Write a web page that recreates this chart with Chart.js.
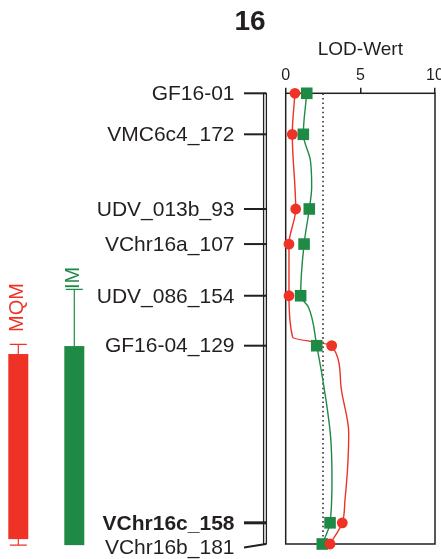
<!DOCTYPE html>
<html><head><meta charset="utf-8">
<script src="https://cdn.jsdelivr.net/npm/chart.js@4.4.1/dist/chart.umd.min.js"></script>
<style>html,body{margin:0;padding:0;background:#fff}#wrap{position:relative;width:441px;height:559px}</style>
</head><body><div id="wrap"><canvas id="c"></canvas></div>
<script>
// Marker names and positions along chromosome 16 (cM-like units, top = 0)
const markers = ['GF16-01','VMC6c4_172','UDV_013b_93','VChr16a_107','UDV_086_154','GF16-04_129','VChr16c_158','VChr16b_181'];
const boldMarker = 'VChr16c_158';
const markerPos = [0, 5.46, 15.4, 20.07, 26.95, 33.6, 57.18, 60];
// LOD values at markers
const lodMQM = [0.62, 0.44, 0.67, 0.22, 0.22, 3.08, 3.79, 2.97];
const lodIM  = [1.41, 1.18, 1.58, 1.23, 1.0, 2.08, 2.97, 2.45];
// LOD profile curves
const curveMQMPos = [0, 5.46, 15.4, 20.07, 26.95, 32.49, 33.6, 38.57, 45.23, 49.76, 54.15, 57.18, 60];
const curveMQMLod = [0.62, 0.44, 0.67, 0.22, 0.22, 0.47, 3.08, 3.68, 4.22, 4.15, 3.97, 3.79, 2.97];
const curveIMPos = [0, 5.46, 8.88, 12.48, 15.4, 20.07, 26.95, 28.42, 33.6, 40.84, 45.77, 51.49, 57.18, 60];
const curveIMLod = [1.41, 1.18, 1.65, 1.74, 1.58, 1.23, 1.0, 1.51, 2.08, 2.70, 3.01, 3.10, 2.97, 2.45];
const threshold = 2.5;
const lodTicks = [0, 5, 10];
const chromLength = 60;
// QTL intervals: [whisker top, bar top, bar bottom, whisker bottom]
const mqmInterval = [33.42, 34.71, 59.35, 60.15];
const imInterval  = [26.1, 33.65, 60.15, 60.15];
const intervalLabels = ['MQM', 'IM'];

const RED = '#ee3226', GREEN = '#1e8a45', INK = '#231f20';
const FONT = '"Liberation Sans", Arial, Helvetica, sans-serif';

const pts = (xs, ys) => xs.map((v, i) => ({x: v, y: ys[i]}));

const decor = {
  id: 'decor',
  beforeDatasetsDraw(chart) {
    const {ctx, chartArea: a} = chart;
    ctx.save();
    ctx.strokeStyle = INK; ctx.lineWidth = 1.5;
    ctx.strokeRect(a.left, a.top, a.right - a.left, a.bottom - a.top);
    ctx.restore();
  },
  afterDraw(chart) {
    const {ctx} = chart;
    const y = chart.scales.y;
    const top = y.getPixelForValue(0), bot = y.getPixelForValue(chromLength);
    ctx.save();
    // title
    ctx.fillStyle = INK; ctx.textAlign = 'center'; ctx.textBaseline = 'middle';
    ctx.font = 'bold 28px ' + FONT;
    ctx.fillText('16', 250, 22);
    // chromosome bar
    ctx.fillStyle = '#cfcfcf';
    ctx.fillRect(263.5, top, 3, bot - top);
    ctx.strokeStyle = INK; ctx.lineWidth = 1.1;
    ctx.strokeRect(263.5, top, 3, bot - top);
    // markers
    ctx.textAlign = 'right';
    markers.forEach((m, i) => {
      const py = y.getPixelForValue(markerPos[i]);
      const last = i === markers.length - 1;
      const ly = last ? py + 3.5 : py;
      ctx.strokeStyle = INK;
      ctx.lineWidth = m === boldMarker ? 3 : 2;
      ctx.beginPath(); ctx.moveTo(244, ly); ctx.lineTo(266, py); ctx.stroke();
      ctx.fillStyle = INK;
      ctx.font = (m === boldMarker ? 'bold ' : '') + '21px ' + FONT;
      ctx.fillText(m, 234.5, ly + 1);
    });
    // intervals
    const drawInt = (iv, x0, w, color, label, ty) => {
      const cx = x0 + w / 2;
      const p = iv.map(v => y.getPixelForValue(v));
      ctx.fillStyle = color;
      ctx.fillRect(x0, p[1], w, p[2] - p[1]);
      ctx.strokeStyle = color; ctx.lineWidth = 1.2;
      ctx.beginPath();
      ctx.moveTo(cx, p[0]); ctx.lineTo(cx, p[1]);
      ctx.moveTo(x0 + 1.5, p[0]); ctx.lineTo(x0 + w - 1.5, p[0]);
      if (p[3] - p[2] > 1) {
        ctx.moveTo(cx, p[2]); ctx.lineTo(cx, p[3]);
        ctx.moveTo(x0 + 1.5, p[3]); ctx.lineTo(x0 + w - 1.5, p[3]);
      }
      ctx.stroke();
      ctx.save();
      ctx.translate(cx - 0.5, ty);
      ctx.rotate(-Math.PI / 2);
      ctx.font = '20px ' + FONT;
      ctx.textAlign = 'center'; ctx.textBaseline = 'middle';
      ctx.fillText(label, 0, 0);
      ctx.restore();
    };
    drawInt(mqmInterval, 8.3, 20, RED, intervalLabels[0], 307.5);
    drawInt(imInterval, 64.3, 20, GREEN, intervalLabels[1], 278);
    ctx.restore();
  }
};

new Chart(document.getElementById('c'), {
  type: 'scatter',
  data: {
    datasets: [
      {label: 'MQM marker', data: pts(lodMQM, markerPos), pointStyle: 'circle', pointRadius: 5.4,
       backgroundColor: RED, borderWidth: 0, showLine: false, clip: false},
      {label: 'IM marker', data: pts(lodIM, markerPos), pointStyle: 'rect', pointRadius: 8.2,
       backgroundColor: GREEN, borderWidth: 0, showLine: false, clip: false},
      {label: 'MQM', data: pts(curveMQMLod, curveMQMPos), showLine: true, pointRadius: 0,
       borderColor: RED, borderWidth: 1.4, cubicInterpolationMode: 'monotone', indexAxis: 'y', clip: false},
      {label: 'IM', data: pts(curveIMLod, curveIMPos), showLine: true, pointRadius: 0,
       borderColor: GREEN, borderWidth: 1.4, cubicInterpolationMode: 'monotone', indexAxis: 'y', clip: false},
      {label: 'Schwelle', data: [{x: threshold, y: 0}, {x: threshold, y: chromLength}], showLine: true,
       pointRadius: 0, borderColor: '#333', borderWidth: 1.6, borderDash: [1.6, 3]}
    ]
  },
  options: {
    responsive: true, maintainAspectRatio: false, animation: false,
    layout: {padding: {left: 285.7, right: 6, top: 38.6, bottom: 15}, autoPadding: false},
    plugins: {legend: {display: false}, tooltip: {enabled: false}, title: {display: false}},
    scales: {
      x: {
        type: 'linear', position: 'top', min: 0, max: 10,
        afterBuildTicks: s => { s.ticks = lodTicks.map(v => ({value: v})); },
        afterFit: s => { s.height = 54.7; s.paddingLeft = 0; s.paddingRight = 0; },
        grid: {drawOnChartArea: false, drawTicks: true, tickLength: 5.5, color: INK, lineWidth: 1.5},
        border: {display: false},
        ticks: {color: INK, font: {size: 16, family: FONT}, padding: 3, maxRotation: 0},
        title: {display: true, text: 'LOD-Wert', color: INK, font: {size: 19, family: FONT}, padding: {top: 0, bottom: 0}}
      },
      y: {type: 'linear', reverse: true, min: 0, max: chromLength, display: false}
    }
  },
  plugins: [decor]
});
</script></body></html>
